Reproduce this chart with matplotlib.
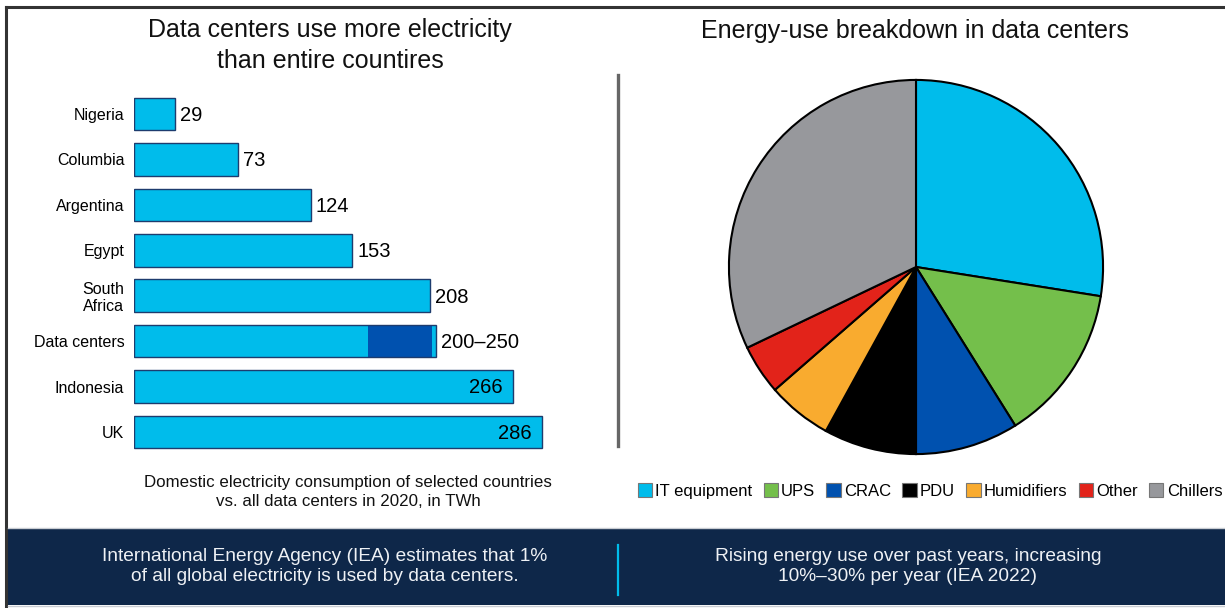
import matplotlib

matplotlib.use("Agg")

import matplotlib.pyplot as plt
from matplotlib.patches import Patch, Rectangle
from matplotlib.lines import Line2D

plt.rcParams["font.family"] = ["Liberation Sans", "DejaVu Sans"]

# bar chart data (TWh, 2020)
countries = ["Nigeria", "Columbia", "Argentina", "Egypt", "South\nAfrica",
             "Data centers", "Indonesia", "UK"]
consumption = [29, 73, 124, 153, 208, None, 266, 286]
value_labels = ["29", "73", "124", "153", "208", "200–250", "266", "286"]
# data centers bar as drawn: light part, dark range part, light sliver
data_center_segments = [164, 45, 3]

# pie data (share of energy use, %)
pie_labels = ["IT equipment", "UPS", "CRAC", "PDU", "Humidifiers", "Other", "Chillers"]
pie_shares = [27.5, 13.6, 8.9, 8.0, 5.6, 4.3, 32.1]

LIGHT = "#00BCEB"
DARK = "#0051AF"
EDGE = "#1d3c6e"
NAVY = "#0e2749"
PIE_COLORS = ["#00BCEB", "#74BF4B", "#0051AF", "#000000", "#F9AB2F", "#E2231A", "#97989C"]

W, H = 1225, 608
fig = plt.figure(figsize=(W / 100, H / 100), dpi=100)


def px_axes(left, top, right, bottom):
    return fig.add_axes([left / W, 1 - bottom / H, (right - left) / W, (bottom - top) / H])


# frame and banner
fig.add_artist(Line2D([6 / W, 6 / W], [0, 1 - 7 / H], color="#333333", lw=2.2))
fig.add_artist(Line2D([6 / W, 1], [1 - 7 / H, 1 - 7 / H], color="#333333", lw=2.2))
fig.add_artist(Rectangle((8 / W, 1 - 605 / H), 1, 77 / H, transform=fig.transFigure,
                         facecolor=NAVY, edgecolor="none"))
fig.add_artist(Line2D([8 / W, 1], [1 - 528 / H, 1 - 528 / H], color="#c8ccd2", lw=1))
fig.add_artist(Line2D([8 / W, 1], [1 - 606 / H, 1 - 606 / H], color="#c8ccd2", lw=1))
fig.add_artist(Line2D([618 / W, 618 / W], [1 - 545 / H, 1 - 595 / H], color=LIGHT, lw=1.6))
fig.add_artist(Line2D([618 / W, 618 / W], [1 - 75 / H, 1 - 446 / H], color="#666666", lw=2.4))

# titles
fig.text(330 / W, 1 - 45.5 / H, "Data centers use more electricity\nthan entire countires",
         ha="center", va="center", fontsize=18, color="#111111", linespacing=1.38)
fig.text(915 / W, 1 - 31 / H, "Energy-use breakdown in data centers",
         ha="center", va="center", fontsize=18, color="#111111")
fig.text(348 / W, 1 - 492 / H,
         "Domestic electricity consumption of selected countries\nvs. all data centers in 2020, in TWh",
         ha="center", va="center", fontsize=12.2, color="#111111", linespacing=1.25)

# banner texts
banner_left = "International Energy Agency (IEA) estimates that 1%\nof all global electricity is used by data centers."
banner_right = "Rising energy use over past years, increasing\n10%–30% per year (IEA 2022)"
fig.text(325 / W, 1 - 566.5 / H, banner_left, ha="center", va="center",
         fontsize=13.8, color="#eef1f5", linespacing=1.3)
fig.text(908 / W, 1 - 566.5 / H, banner_right, ha="center", va="center",
         fontsize=13.8, color="#eef1f5", linespacing=1.3)

# bar chart
ax = px_axes(134, 91.3, 134 + 1.425 * 300, 454.7)
positions = list(range(len(countries)))
for pos, value, text in zip(positions, consumption, value_labels):
    if value is None:
        left = 0
        seg_colors = [LIGHT, DARK, LIGHT]
        for seg, col in zip(data_center_segments, seg_colors):
            ax.barh(pos, seg, left=left, height=0.72, color=col, linewidth=0)
            left += seg
        ax.barh(pos, left, height=0.72, fill=False, edgecolor=EDGE, linewidth=1)
        ax.text(left + 3.5, pos + 0.03, text, va="center", ha="left", fontsize=14.5)
        continue
    ax.barh(pos, value, height=0.72, color=LIGHT, edgecolor=EDGE, linewidth=1)
    if value > 250:
        ax.text(value - 7, pos + 0.03, text, va="center", ha="right", fontsize=14.5)
    else:
        ax.text(value + 3.5, pos + 0.03, text, va="center", ha="left", fontsize=14.5)

ax.set_xlim(0, 300)
ax.set_ylim(len(countries) - 0.5, -0.5)
ax.set_yticks(positions)
ax.set_yticklabels(countries, fontsize=11.5, multialignment="center", linespacing=1.15)
ax.tick_params(axis="y", length=0, pad=7)
ax.set_xticks([])
for spine in ax.spines.values():
    spine.set_visible(False)

# pie chart
pax = px_axes(916 - 188, 267 - 188, 916 + 188, 267 + 188)
pax.pie(pie_shares, colors=PIE_COLORS, startangle=90, counterclock=False,
        wedgeprops={"edgecolor": "black", "linewidth": 1.5})
pax.set_xlim(-1.005, 1.005)
pax.set_ylim(-1.005, 1.005)
pax.set_aspect("equal")

handles = [Patch(facecolor=c, edgecolor="#777777", linewidth=0.8) for c in PIE_COLORS]
fig.legend(handles, pie_labels, loc="center", bbox_to_anchor=(930 / W, 1 - 491 / H),
           ncol=len(pie_labels), frameon=False, fontsize=12, handlelength=0.85,
           handleheight=0.85, handletextpad=0.2, columnspacing=0.68, borderaxespad=0)

fig.savefig("out.png", dpi=100)
